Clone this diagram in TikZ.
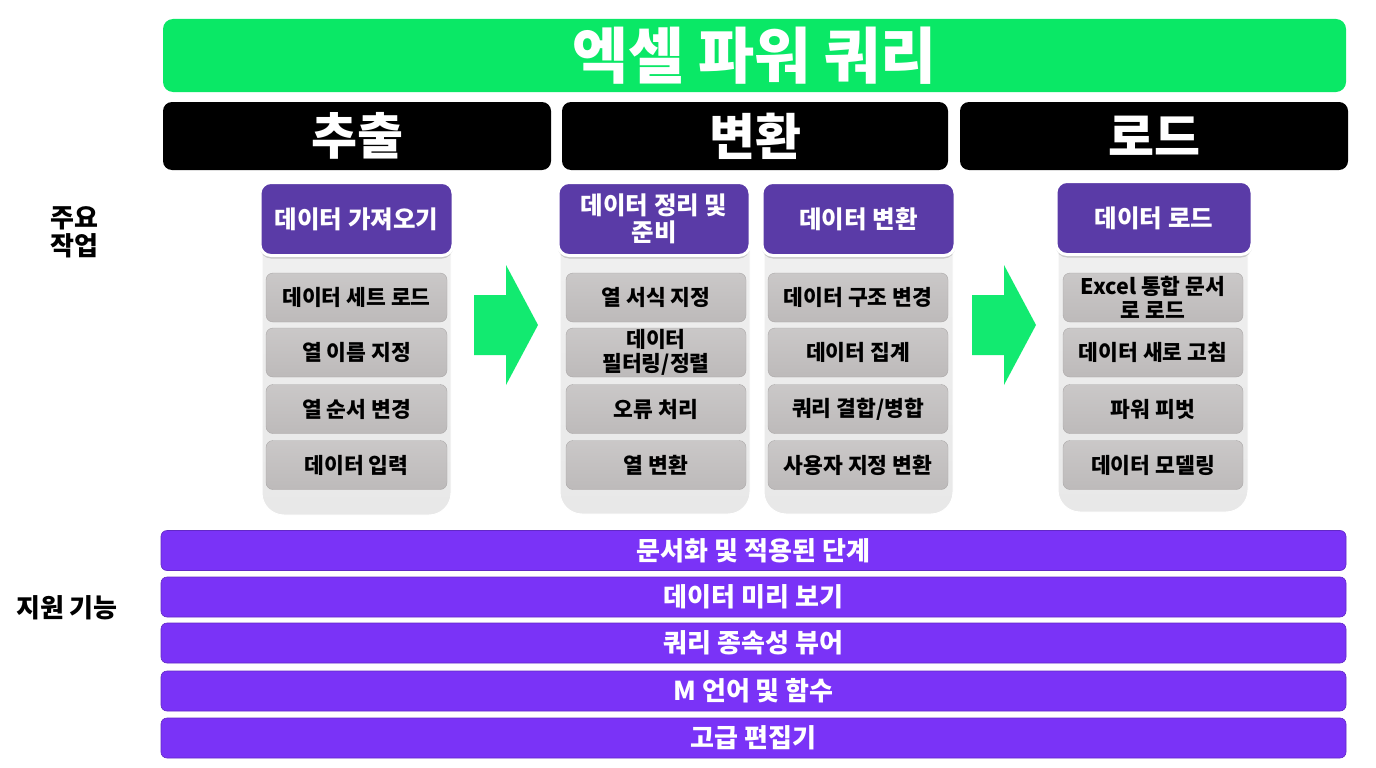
\documentclass[tikz,border=0pt]{standalone}
\usepackage{fontspec}
\setmainfont{Noto Sans CJK KR}
\usetikzlibrary{shadows}
\definecolor{pqgreen}{HTML}{0AE866}
\definecolor{arrowgreen}{HTML}{12EA70}
\definecolor{hdrpurple}{HTML}{5A3BA7}
\definecolor{barpurple}{HTML}{7A33F7}
\definecolor{itemgrey}{HTML}{BDBABA}
\definecolor{contgrey}{HTML}{E8E8E8}
\tikzset{
  titlebar/.style={fill=pqgreen, rounded corners=10pt, minimum width=1183pt, minimum height=73pt, inner sep=0pt, text=white, font=\bfseries\fontsize{61}{61}\selectfont},
  stagebar/.style={fill=black, rounded corners=9pt, minimum height=68pt, inner sep=0pt, text=white, font=\bfseries\fontsize{50}{50}\selectfont},
  container/.style={rounded corners=22pt, minimum height=330pt, inner sep=0pt, top color=contgrey!60, bottom color=contgrey, draw=white, line width=1pt},
  header/.style={fill=hdrpurple, draw=white, line width=3pt, rounded corners=11pt, minimum height=73pt, inner sep=2pt, text=white, align=center, font=\bfseries\fontsize{24.5}{27}\selectfont, drop shadow={opacity=0.35, shadow xshift=0pt, shadow yshift=-3pt}},
  item/.style={top color=itemgrey!80, bottom color=itemgrey, draw=itemgrey!90!black, line width=0.4pt, rounded corners=7pt, minimum width=180pt, minimum height=49pt, inner sep=1pt, align=center, text=black, font=\bfseries\fontsize{21.5}{23.5}\selectfont},
  suppbar/.style={fill=barpurple, draw=barpurple!80!black, line width=0.6pt, rounded corners=6pt, minimum width=1185pt, minimum height=40pt, inner sep=0pt, text=white, font=\bfseries\fontsize{26}{26}\selectfont},
  sidelabel/.style={align=center, text=black, font=\bfseries\fontsize{26}{28}\selectfont},
  flowarrow/.style={fill=arrowgreen, draw=none}
}
\begin{document}
\begin{tikzpicture}[x=1pt,y=-1pt]
\useasboundingbox (0,0) rectangle (1376,768);

% title
\node[titlebar] (title) at (754.5,55.5) {엑셀 파워 쿼리};

% stages
\node[stagebar, minimum width=388pt] (extract) at (357,136) {추출};
\node[stagebar, minimum width=386pt] (transform) at (755,136) {변환};
\node[stagebar, minimum width=388pt] (load) at (1154,136) {로드};

% side labels
\node[sidelabel] (mainlbl) at (74,232) {주요\\작업};
\node[sidelabel] (supplbl) at (67,608) {지원 기능};

% containers
\node[container, minimum width=189pt] (c1) at (356.5,350) {};
\node[container, minimum width=190pt] (c2) at (655,349) {};
\node[container, minimum width=189pt] (c3) at (858.5,349) {};
\node[container, minimum width=190pt] (c4) at (1153,347) {};

% headers
\node[header, minimum width=193pt] (h1) at (356.5,219) {데이터 가져오기};
\node[header, minimum width=192pt] (h2) at (654,219) {데이터 정리 및\\준비};
\node[header, minimum width=193pt] (h3) at (858.5,219) {데이터 변환};
\node[header, minimum width=196pt] (h4) at (1154,218) {데이터 로드};

% items column 1
\node[item, minimum width=181pt] (i11) at (356.5,297.5) {데이터 세트 로드};
\node[item, minimum width=181pt] (i12) at (356.5,352.5) {열 이름 지정};
\node[item, minimum width=181pt] (i13) at (356.5,409) {열 순서 변경};
\node[item, minimum width=181pt] (i14) at (356.5,465) {데이터 입력};

% items column 2
\node[item] (i21) at (656,297.5) {열 서식 지정};
\node[item] (i22) at (656,352.5) {데이터\\필터링/정렬};
\node[item] (i23) at (656,409) {오류 처리};
\node[item] (i24) at (656,465) {열 변환};

% items column 3
\node[item] (i31) at (858,297.5) {데이터 구조 변경};
\node[item] (i32) at (858,352.5) {데이터 집계};
\node[item] (i33) at (858,409) {쿼리 결합/병합};
\node[item] (i34) at (858,465) {사용자 지정 변환};

% items column 4
\node[item] (i41) at (1153,297.5) {Excel 통합 문서\\로 로드};
\node[item] (i42) at (1153,352.5) {데이터 새로 고침};
\node[item] (i43) at (1153,409) {파워 피벗};
\node[item] (i44) at (1153,465) {데이터 모델링};

% flow arrows
\fill[flowarrow] (474,295) -- (506,295) -- (506,265) -- (538,325) -- (506,385) -- (506,355) -- (474,355) -- cycle;
\fill[flowarrow] (972,295) -- (1004,295) -- (1004,265) -- (1036,325) -- (1004,385) -- (1004,355) -- (972,355) -- cycle;

% support bars
\node[suppbar] (s1) at (753.5,550.5) {문서화 및 적용된 단계};
\node[suppbar] (s2) at (753.5,597) {데이터 미리 보기};
\node[suppbar] (s3) at (753.5,643) {쿼리 종속성 뷰어};
\node[suppbar] (s4) at (753.5,691) {M 언어 및 함수};
\node[suppbar] (s5) at (753.5,738) {고급 편집기};
\end{tikzpicture}
\end{document}
